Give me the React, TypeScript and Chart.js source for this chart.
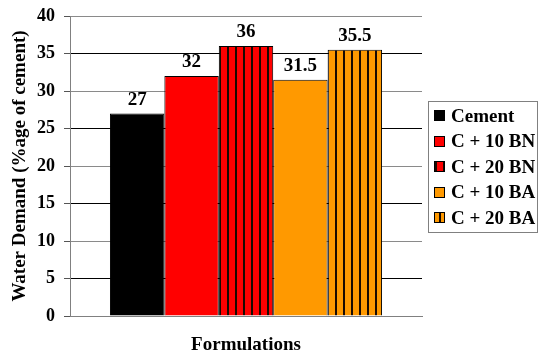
import React, { useEffect, useRef } from "react";
import { Chart, registerables } from "chart.js";

Chart.register(...registerables);

const categories: string[] = [""];
const seriesLabels: string[] = ["Cement", "C + 10 BN", "C + 20 BN", "C + 10 BA", "C + 20 BA"];
const seriesValues: number[] = [27, 32, 36, 31.5, 35.5];
const baseColors: string[] = ["#000000", "#FF0000", "#FF0000", "#FF9900", "#FF9900"];
const striped: boolean[] = [false, false, true, false, true];
const stripePhase: number[] = [0, 0, 3, 0, 7];
const yTicks: number[] = [0, 5, 10, 15, 20, 25, 30, 35, 40];

const FONT = '"Liberation Serif", "Times New Roman", serif';

function makePattern(color: string, phase: number): CanvasPattern | string {
  const c = document.createElement("canvas");
  c.width = 8;
  c.height = 8;
  const ctx = c.getContext("2d");
  if (!ctx) return color;
  ctx.fillStyle = color;
  ctx.fillRect(0, 0, 8, 8);
  ctx.fillStyle = "#1a0a00";
  ctx.fillRect(phase % 8, 0, 1, 8);
  ctx.fillRect((phase + 1) % 8, 0, 1, 8);
  const p = ctx.createPattern(c, "repeat");
  return p || color;
}

const valueLabelPlugin = {
  id: "valueLabels",
  afterDatasetsDraw(chart: any) {
    const ctx = chart.ctx;
    ctx.save();
    ctx.font = `bold 19px ${FONT}`;
    ctx.fillStyle = "#000";
    ctx.textAlign = "center";
    ctx.textBaseline = "alphabetic";
    chart.data.datasets.forEach((ds: any, i: number) => {
      const meta = chart.getDatasetMeta(i);
      meta.data.forEach((el: any, j: number) => {
        const v = ds.data[j];
        ctx.fillText(String(v), el.x, el.y - 9);
      });
    });
    ctx.restore();
  },
};

const boxLegendPlugin = {
  id: "boxLegend",
  afterDraw(chart: any) {
    const ctx = chart.ctx;
    const left = 428.5;
    const top = 101.5;
    const w = 109;
    const h = 131;
    ctx.save();
    ctx.strokeStyle = "#808080";
    ctx.lineWidth = 1;
    ctx.strokeRect(left, top, w, h);
    ctx.font = `bold 19px ${FONT}`;
    ctx.textAlign = "left";
    ctx.textBaseline = "middle";
    chart.data.datasets.forEach((ds: any, i: number) => {
      const cy = 116 + i * 25.5;
      ctx.fillStyle = ds.backgroundColor;
      ctx.fillRect(434, Math.round(cy - 6), 11, 11);
      ctx.strokeStyle = "#000";
      ctx.strokeRect(434.5, Math.round(cy - 6) + 0.5, 10, 10);
      ctx.fillStyle = "#000";
      ctx.fillText(ds.label, 451, cy + 1);
    });
    ctx.restore();
  },
};

export default function App() {
  const ref = useRef<HTMLCanvasElement | null>(null);

  useEffect(() => {
    if (!ref.current) return;
    const datasets = seriesLabels.map((label, i) => ({
      label,
      data: [seriesValues[i]],
      backgroundColor: striped[i] ? makePattern(baseColors[i], stripePhase[i]) : baseColors[i],
      borderColor: "#000",
      borderWidth: 1,
      categoryPercentage: 0.773,
      barPercentage: 1.0,
    }));
    const chart = new Chart(ref.current, {
      type: "bar",
      data: { labels: categories, datasets },
      options: {
        animation: false,
        responsive: false,
        devicePixelRatio: 1,
        layout: { padding: { left: 0, top: 16, right: 116, bottom: 0 } },
        plugins: {
          legend: { display: false },
          tooltip: { enabled: false },
        },
        scales: {
          x: {
            offset: true,
            grid: { display: false },
            border: { display: true, color: "#808080", width: 1 },
            ticks: { display: false },
            title: {
              display: true,
              text: "Formulations",
              color: "#000",
              font: { family: FONT, size: 19, weight: "bold" },
              padding: { top: 17, bottom: 0 },
            },
            afterFit: (s: any) => {
              s.height = 40;
              s.paddingLeft = 0;
              s.paddingRight = 0;
            },
          },
          y: {
            min: 0,
            max: 40,
            afterBuildTicks: (s: any) => {
              s.ticks = yTicks.map((v) => ({ value: v }));
            },
            grid: {
              color: (c: any) => (c.tick && c.tick.value % 10 === 0 ? "#8a8a8a" : "#000"),
              tickColor: "#555",
              tickLength: 6,
              lineWidth: 1,
            },
            border: { display: true, color: "#808080", width: 1 },
            ticks: {
              color: "#000",
              padding: 9,
              font: { family: FONT, size: 18, weight: "bold" },
            },
            title: {
              display: true,
              text: "Water Demand (%age of cement)",
              color: "#000",
              font: { family: FONT, size: 19, weight: "bold" },
              padding: { top: 9, bottom: 0 },
            },
            afterFit: (s: any) => {
              s.width = 70;
              s.paddingTop = 0;
              s.paddingBottom = 0;
            },
          },
        },
      },
      plugins: [valueLabelPlugin, boxLegendPlugin],
    });
    return () => chart.destroy();
  }, []);

  return (
    <div style={{ position: "absolute", left: 0, top: 0, width: 538, height: 356, background: "#fff" }}>
      <canvas ref={ref} width={538} height={356} />
    </div>
  );
}
